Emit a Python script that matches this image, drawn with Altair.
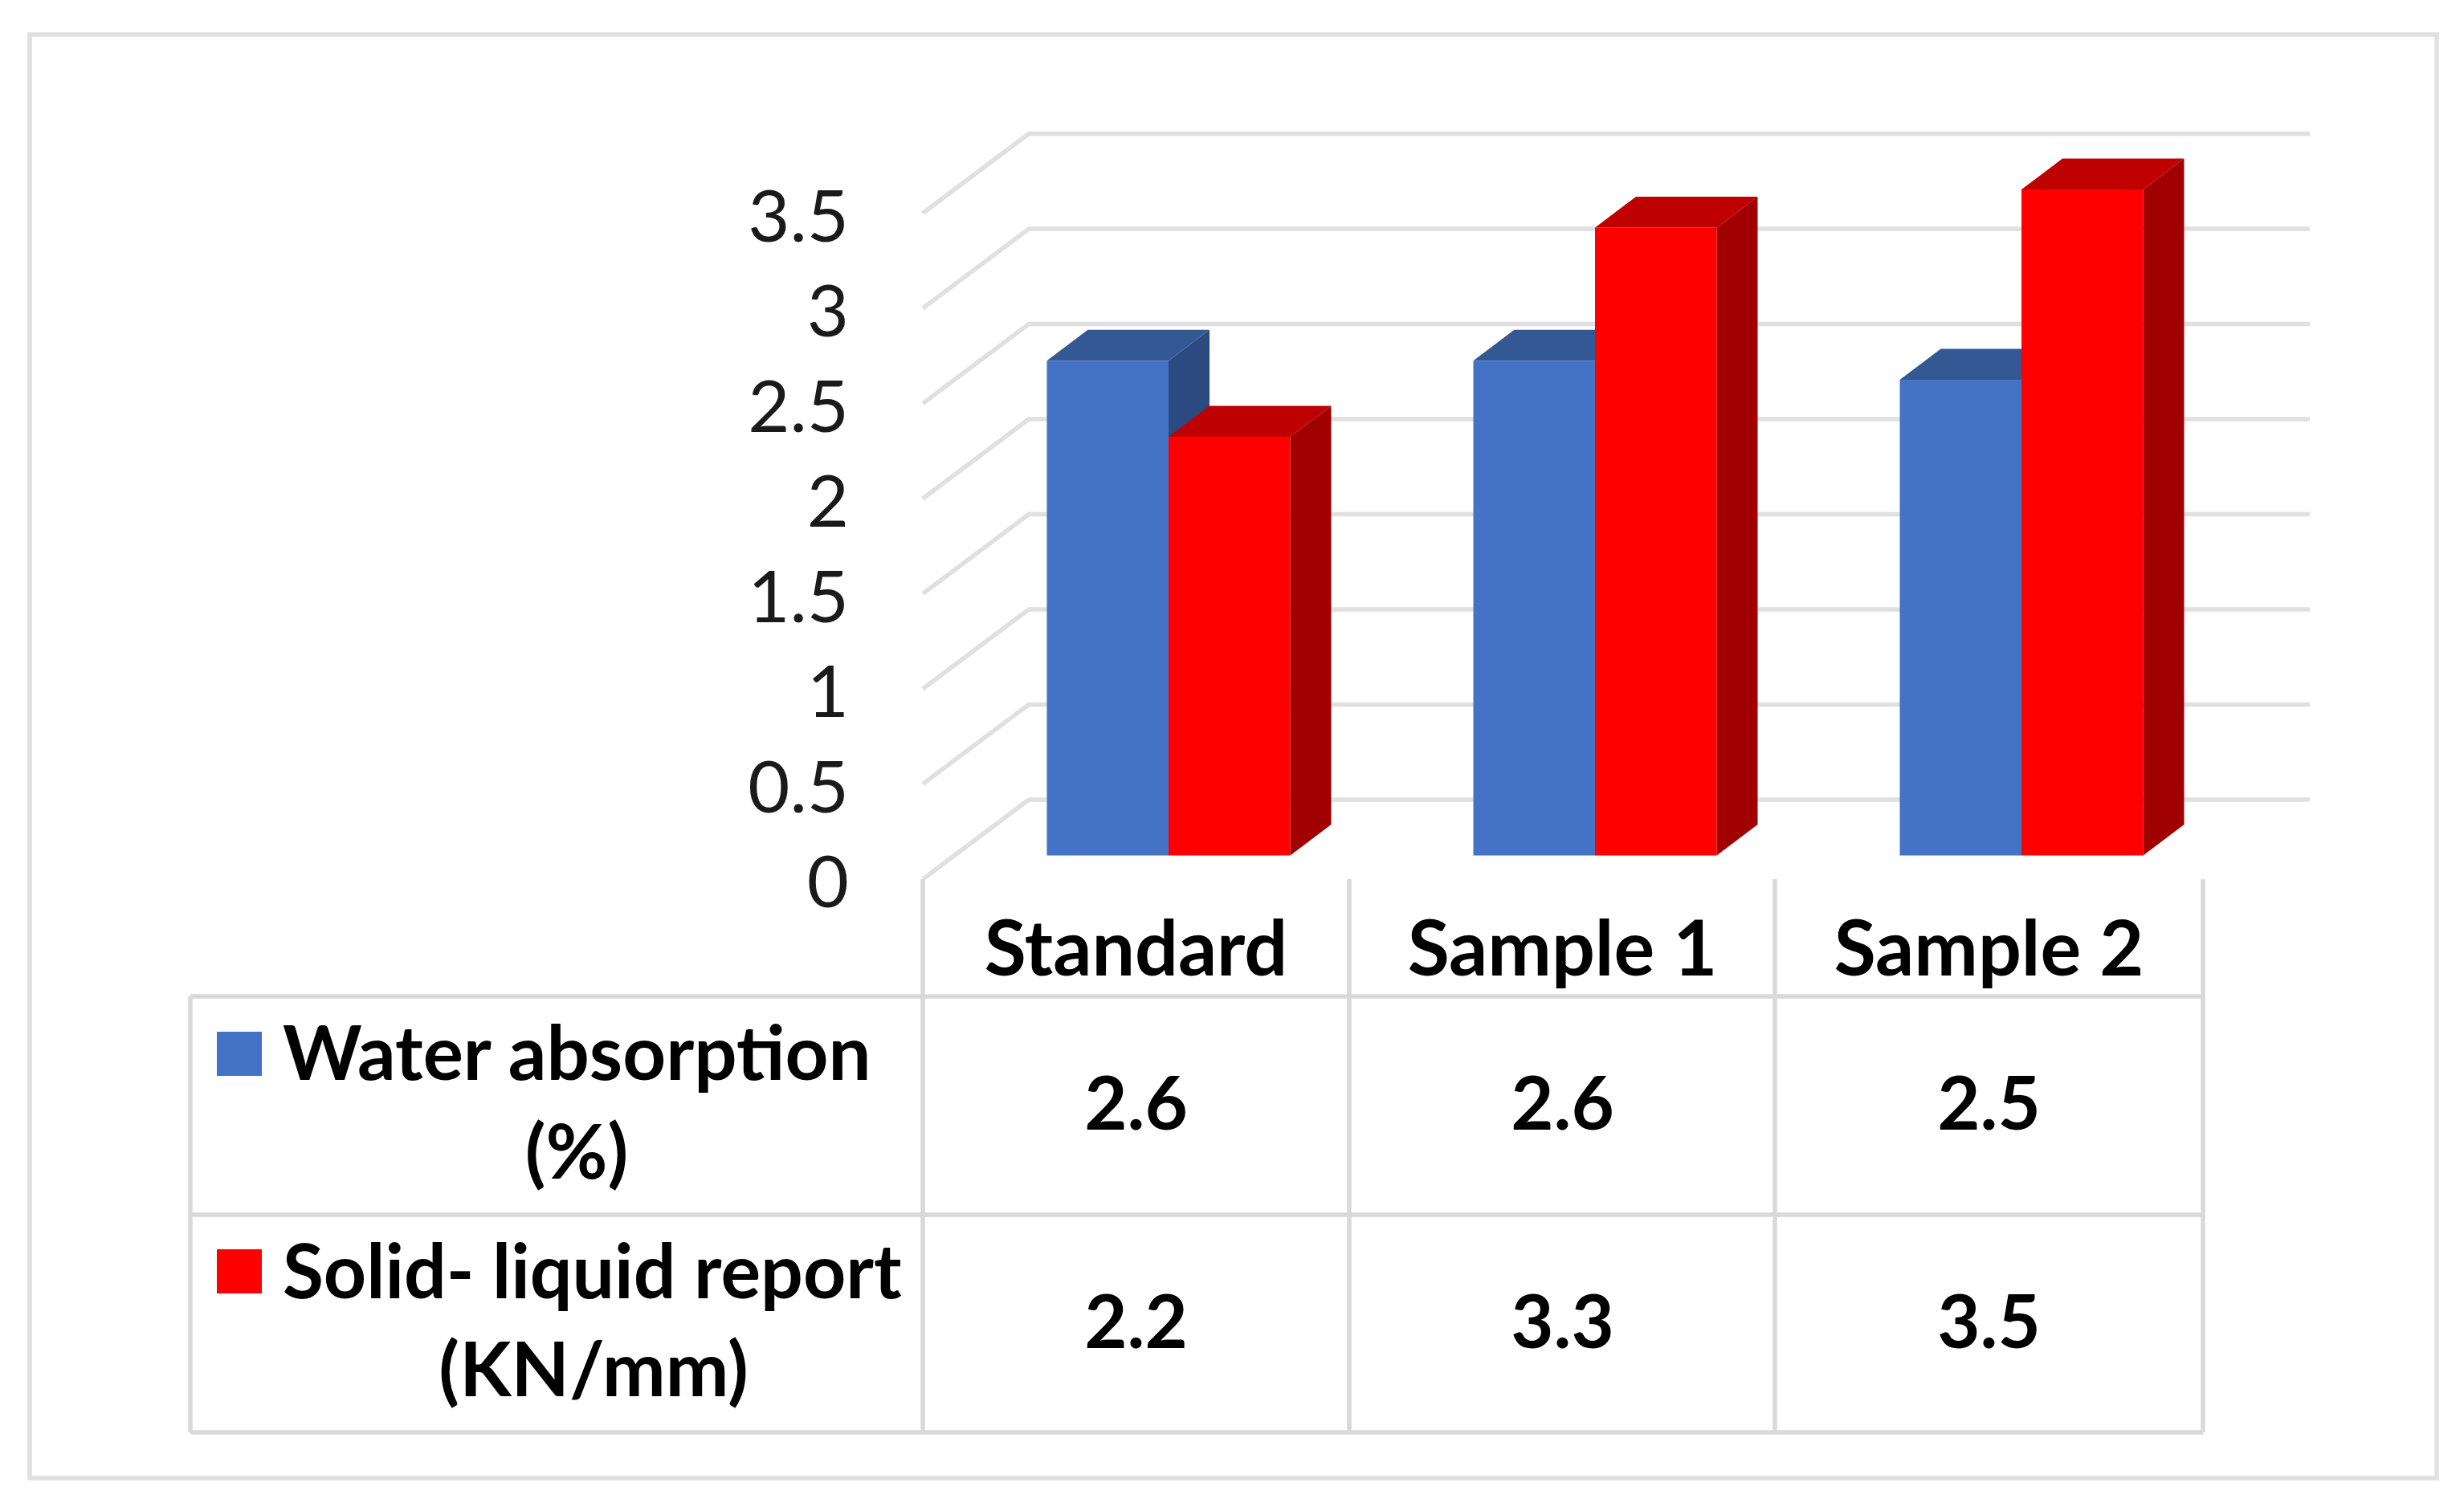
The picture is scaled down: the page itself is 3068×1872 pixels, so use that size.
import altair as alt
import pandas as pd

categories = ["Standard", "Sample 1", "Sample 2"]
water_absorption = [2.6, 2.6, 2.5]
solid_liquid = [2.2, 3.3, 3.5]
tick_values = [0, 0.5, 1, 1.5, 2, 2.5, 3, 3.5]
tick_labels = ["0", "0.5", "1", "1.5", "2", "2.5", "3", "3.5"]
legend_water = ["Water absorption", "(%)"]
legend_solid = ["Solid- liquid report", "(KN/mm)"]

# ---- layout -----------------------------------------------------------
W, H = 3045, 1845
M = 8                       # page margin; layout below is in page pixels
COL = 531.0                 # px per category
UNIT = 237.0                # px per value unit
WALL_X, FLOOR_Y = 1149, 1095

def px(v):  # page px -> chart px
    return v - M

x_scale = alt.Scale(domain=[-(WALL_X - M) / COL, (W - (WALL_X - M)) / COL], range=[0, W], nice=False, zero=False)
y_scale = alt.Scale(domain=[-(H - (FLOOR_Y - M)) / UNIT, (FLOOR_Y - M) / UNIT], range=[H, 0], nice=False, zero=False)
X = lambda f: alt.X(f, type="quantitative", scale=x_scale, axis=None)
Y = lambda f: alt.Y(f, type="quantitative", scale=y_scale, axis=None)

BAR_W = 151.5 / COL
BAR_SHIFT_X = 40.5 / COL    # bar front stands in front of the back wall
BAR_SHIFT_Y = 29.5 / UNIT
BAR_DX = 51 / COL
BAR_DY = 38.5 / UNIT
WALL_DX = 132 / COL
WALL_DY = 99 / UNIT
GRID_END = (2876 - WALL_X) / COL

GRID = "#e0e0e0"
TABLE = "#d9d9d9"
FONT = "Lato"

# ---- frame ------------------------------------------------------------
frame = alt.Chart(pd.DataFrame({"a": [0]})).mark_rect(
    fillOpacity=0, stroke="#e0e0e0", strokeWidth=5.5
).encode(
    x=alt.value(px(37)), x2=alt.value(px(3034)),
    y=alt.value(px(43)), y2=alt.value(px(1841)),
)

# ---- grid -------------------------------------------------------------
rows = []
for t in tick_values:
    rows += [
        {"t": t, "i": 0, "x": 0, "y": t},
        {"t": t, "i": 1, "x": WALL_DX, "y": t + WALL_DY},
        {"t": t, "i": 2, "x": GRID_END, "y": t + WALL_DY},
    ]
grid = alt.Chart(pd.DataFrame(rows)).mark_line(
    stroke=GRID, strokeWidth=5.5, strokeJoin="miter"
).encode(x=X("x"), y=Y("y"), detail="t:N", order="i:Q")

# ---- bars -------------------------------------------------------------
def faces(values, slot, front_col, top_col, side_col):
    front, top, side = [], [], []
    for c, v in enumerate(values):
        centre = c + 0.5 + BAR_SHIFT_X
        xl = centre + (slot - 1) * BAR_W
        xr = xl + BAR_W
        y0 = BAR_SHIFT_Y
        yt = v + BAR_SHIFT_Y
        front.append({"xl": xl, "xr": xr, "y0": y0, "yt": yt})
        top += [
            {"c": c, "x": xl, "u": yt, "l": yt},
            {"c": c, "x": xl + BAR_DX, "u": yt + BAR_DY, "l": yt},
            {"c": c, "x": xr, "u": yt + BAR_DY, "l": yt},
            {"c": c, "x": xr + BAR_DX, "u": yt + BAR_DY, "l": yt + BAR_DY},
        ]
        side += [
            {"c": c, "x": xr, "u": yt, "l": y0},
            {"c": c, "x": xr + BAR_DX, "u": yt + BAR_DY, "l": y0 + BAR_DY},
        ]
    side_l = alt.Chart(pd.DataFrame(side)).mark_area(color=side_col).encode(
        x=X("x"), y=Y("u"), y2="l:Q", detail="c:N")
    top_l = alt.Chart(pd.DataFrame(top)).mark_area(color=top_col).encode(
        x=X("x"), y=Y("u"), y2="l:Q", detail="c:N")
    front_l = alt.Chart(pd.DataFrame(front)).mark_rect(color=front_col).encode(
        x=X("xl"), x2="xr:Q", y=Y("yt"), y2="y0:Q")
    return [side_l, top_l, front_l]

BLUE = ("#4472C4", "#335894", "#2B4A80")
RED = ("#FF0000", "#BF0000", "#A00000")
blue_layers = faces(water_absorption, 0, *BLUE)
red_layers = faces(solid_liquid, 1, *RED)

# ---- tick labels ------------------------------------------------------
ticks = alt.Chart(pd.DataFrame({"v": tick_values, "s": tick_labels})).mark_text(
    font=FONT, fontSize=90, align="right", baseline="middle", color="#1a1a1a", dx=-92, dy=8
).encode(x=alt.X(datum=0, type="quantitative", scale=x_scale, axis=None), y=Y("v"), text="s:N")

# ---- table ------------------------------------------------------------
def rule(x1, y1, x2, y2):
    enc = dict(x=alt.value(px(x1)), y=alt.value(px(y1)))
    if x1 != x2:
        enc["x2"] = alt.value(px(x2))
    if y1 != y2:
        enc["y2"] = alt.value(px(y2))
    return alt.Chart(pd.DataFrame({"a": [0]})).mark_rule(stroke=TABLE, strokeWidth=5.5).encode(**enc)

TX0, TX3 = 237, 2743
TY0, TY1, TY2 = 1241, 1513, 1784
COL_X = [WALL_X, 1680, 2210, TX3]
table_rules = [rule(TX0, y, TX3, y) for y in (TY0, TY1, TY2)]
table_rules += [rule(TX0, TY0, TX0, TY2)]
table_rules += [rule(x, FLOOR_Y, x, TY2) for x in COL_X]

def row_text(labels, baseline_y, size):
    df = pd.DataFrame({"c": [i + 0.5 for i in range(len(labels))], "s": labels})
    return alt.Chart(df).mark_text(
        font=FONT, fontWeight="bold", fontSize=size, align="center", baseline="alphabetic", color="#000000"
    ).encode(x=X("c"), y=alt.value(px(baseline_y)), text="s:N")

header = row_text(categories, 1215, 95)
row1 = row_text([str(v) for v in water_absorption], 1407, 92)
row2 = row_text([str(v) for v in solid_liquid], 1679, 92)

def legend_line(text, x, y, align, size=94):
    return alt.Chart(pd.DataFrame({"s": [text]})).mark_text(
        font=FONT, fontWeight="bold", fontSize=size, align=align, baseline="alphabetic", color="#000000"
    ).encode(x=alt.value(px(x)), y=alt.value(px(y)), text="s:N")

legend_text = [
    legend_line(legend_water[0], 352, 1345, "left"),
    legend_line(legend_water[1], 718, 1468, "center"),
    legend_line(legend_solid[0], 352, 1617, "left", 93),
    legend_line(legend_solid[1], 739, 1739, "center"),
]

def swatch(y1, y2, color):
    return alt.Chart(pd.DataFrame({"a": [0]})).mark_rect(color=color).encode(
        x=alt.value(px(270)), x2=alt.value(px(326)), y=alt.value(px(y1)), y2=alt.value(px(y2)))

swatches = [swatch(1285, 1340, BLUE[0]), swatch(1556, 1611, RED[0])]

chart = alt.layer(
    frame, grid, *table_rules, *blue_layers, *red_layers, ticks,
    header, row1, row2, *legend_text, *swatches,
).properties(width=W, height=H, padding=0, background="white").configure_view(stroke=None)

chart.save("out.html", embed_options={"renderer": "svg", "actions": False})
